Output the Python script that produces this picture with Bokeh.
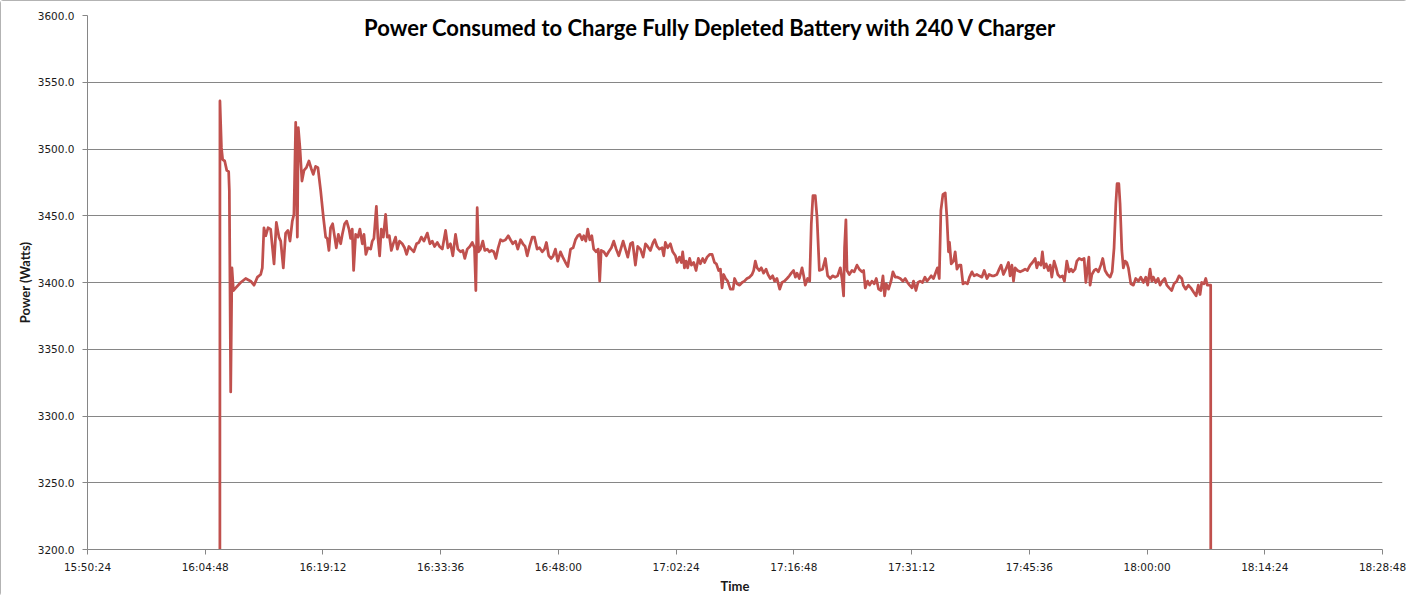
from bokeh.plotting import figure
from bokeh.models import FixedTicker, NumeralTickFormatter, Label, Range1d
from bokeh.embed import file_html
from bokeh.resources import INLINE

title_text = "Power Consumed to Charge Fully Depleted Battery with 240 V Charger"
x_label = "Time"
y_label = "Power (Watts)"
x_tick_labels = ["15:50:24", "16:04:48", "16:19:12", "16:33:36", "16:48:00", "17:02:24",
                 "17:16:48", "17:31:12", "17:45:36", "18:00:00", "18:14:24", "18:28:48"]
y_ticks = [3200, 3250, 3300, 3350, 3400, 3450, 3500, 3550, 3600]

start_clock = "16:00:00"
# seconds after 16:00:00
elapsed_s = [
    392, 396, 407, 416, 431, 446, 460, 465, 475, 484, 495, 512, 548, 585, 622,
    646, 671, 695, 707, 719, 732, 749, 768, 793, 810, 829, 842, 861, 878, 895,
    910, 927, 939, 952, 964, 971, 983, 998, 1013, 1030, 1049, 1067, 1081, 1098, 1115,
    1135, 1155, 1172, 1184, 1196, 1208, 1223, 1238, 1250, 1265, 1282, 1294, 1311, 1326, 1343,
    1355, 1367, 1377, 1392, 1409, 1423, 1441, 1453, 1467, 1482, 1502, 1514, 1526, 1544, 1555,
    1568, 1580, 1595, 1612, 1624, 1639, 1654, 1668, 1685, 1698, 1714, 1734, 1751, 1766, 1783,
    1800, 1819, 1839, 1856, 1874, 1893,
    1918, 1937, 1954, 1971, 1991, 2008, 2028, 2052, 2069, 2088, 2105, 2125, 2142, 2162, 2179,
    2193, 2211, 2230, 2248, 2264, 2274, 2284, 2294, 2308, 2325, 2340, 2358, 2374, 2389, 2406,
    2421, 2438, 2455, 2472, 2492, 2512, 2528, 2545, 2565, 2582, 2602, 2619, 2636, 2651, 2668,
    2688, 2704, 2724, 2741, 2761, 2778, 2792, 2809, 2827, 2842, 2858, 2875, 2895, 2912, 2932,
    2949, 2969, 2988, 3005, 3022, 3037, 3054, 3066, 3081, 3095, 3110, 3125, 3139, 3157, 3172,
    3183, 3194, 3213, 3232, 3249, 3269, 3286, 3304, 3323, 3335,
    3355, 3372, 3389, 3409, 3425, 3445, 3462, 3482, 3502, 3519, 3535, 3555, 3575, 3587, 3604,
    3621, 3641, 3653, 3665, 3682, 3702, 3719, 3739, 3751, 3768, 3783, 3792, 3805, 3817, 3829,
    3843, 3856, 3873, 3890, 3907, 3922, 3939, 3953, 3971, 3990, 4008, 4025, 4039, 4056, 4069,
    4081, 4093, 4107, 4122, 4142, 4162, 4173, 4191, 4210, 4228, 4245, 4264, 4283, 4301, 4313,
    4325, 4338, 4355, 4369, 4386, 4404, 4418, 4435, 4452, 4467, 4484, 4504, 4521, 4538, 4558,
    4575, 4589, 4606, 4619, 4631, 4648, 4668, 4680, 4692, 4709, 4724, 4736, 4748, 4765, 4778,
    4795,
    4819, 4839, 4856, 4875, 4892, 4912, 4929, 4949, 4961, 4973, 4980, 4990, 4998, 5015, 5034,
    5051, 5071, 5088, 5108, 5120, 5132, 5149, 5164, 5181, 5198, 5213, 5230, 5247, 5262, 5274,
    5286, 5303, 5321, 5335, 5352, 5369, 5389, 5409, 5425, 5442, 5457, 5475, 5486, 5504, 5519,
    5535, 5552, 5570, 5585, 5601, 5616, 5633, 5651, 5662, 5675, 5687, 5702, 5719, 5731, 5743,
    5750, 5763, 5780, 5792, 5805, 5821, 5834, 5849, 5865, 5882, 5897, 5915, 5931, 5951, 5968,
    5988, 6005, 6025, 6041, 6061, 6078, 6098, 6115, 6129, 6146, 6164, 6183, 6195, 6208, 6220,
    6232, 6249, 6269,
    6289, 6305, 6322, 6342, 6359, 6379, 6391, 6403, 6421, 6432, 6445, 6459, 6476, 6489, 6501,
    6518, 6533, 6545, 6562, 6579, 6594, 6611, 6628, 6643, 6655, 6672, 6685, 6702, 6721, 6738,
    6751, 6762, 6773, 6782, 6795, 6812, 6826, 6843, 6861, 6875, 6892, 6909, 6929, 6944, 6958,
    6971, 6980, 6993, 7002, 7015, 7026, 7039, 7051, 7063, 7081, 7100, 7117, 7136, 7154, 7173,
    7191, 7205, 7222, 7235, 7246, 7264, 7281, 7296, 7312, 7330, 7345, 7362, 7381, 7398, 7418,
    7435, 7455, 7466, 7484, 7503, 7521, 7540, 7560, 7576, 7589, 7601, 7618, 7631, 7642, 7657,
    7667, 7677,
]
power_w = [
    0, 3536, 3501, 3492, 3491, 3484, 3483, 3469, 3318, 3411, 3394, 3396, 3400, 3403, 3401,
    3398, 3404, 3406, 3411, 3441, 3435, 3441, 3440, 3414, 3445, 3434, 3431, 3411, 3437, 3439,
    3431, 3446, 3451, 3520, 3434, 3516, 3501, 3476, 3484, 3486, 3491, 3485, 3481, 3487, 3486,
    3469, 3449, 3434, 3433, 3424, 3441, 3444, 3434, 3426, 3436, 3429, 3436, 3444, 3446, 3440,
    3433, 3440, 3409, 3436, 3434, 3440, 3429, 3436, 3421, 3426, 3425, 3431, 3433, 3457, 3434,
    3420, 3440, 3434, 3451, 3434, 3435, 3424, 3429, 3434, 3425, 3431, 3429, 3426, 3421, 3427,
    3425, 3423, 3429, 3430, 3434, 3431,
    3437, 3429, 3431, 3427, 3430, 3427, 3425, 3439, 3426, 3429, 3420, 3436, 3425, 3423, 3424,
    3418, 3425, 3427, 3430, 3426, 3394, 3456, 3423, 3425, 3431, 3424, 3425, 3423, 3424, 3423,
    3418, 3426, 3432, 3431, 3432, 3435, 3432, 3429, 3431, 3425, 3432, 3429, 3427, 3420, 3427,
    3434, 3434, 3425, 3426, 3423, 3425, 3430, 3420, 3418, 3420, 3425, 3416, 3423, 3419, 3415,
    3412, 3425, 3426, 3432, 3435, 3436, 3432, 3435, 3431, 3440, 3432, 3435, 3425, 3423, 3425,
    3401, 3424, 3423, 3420, 3423, 3426, 3431, 3425, 3420, 3424,
    3431, 3425, 3419, 3429, 3430, 3413, 3427, 3425, 3419, 3429, 3427, 3424, 3430, 3432, 3427,
    3425, 3426, 3420, 3430, 3426, 3429, 3423, 3420, 3415, 3419, 3415, 3423, 3411, 3416, 3411,
    3418, 3413, 3415, 3409, 3418, 3414, 3418, 3415, 3419, 3421, 3421, 3415, 3414, 3409, 3410,
    3396, 3406, 3403, 3401, 3395, 3395, 3403, 3399, 3398, 3400, 3401, 3403, 3404, 3406, 3409,
    3416, 3411, 3409, 3411, 3407, 3410, 3406, 3403, 3405, 3401, 3403, 3395, 3400, 3401, 3403,
    3405, 3407, 3409, 3404, 3407, 3403, 3411, 3405, 3398, 3403, 3401, 3444, 3465, 3465, 3449,
    3409,
    3410, 3418, 3405, 3403, 3405, 3404, 3405, 3411, 3403, 3390, 3426, 3447, 3409, 3406, 3409,
    3408, 3413, 3410, 3408, 3409, 3396, 3401, 3398, 3401, 3399, 3403, 3395, 3394, 3405, 3390,
    3399, 3395, 3401, 3408, 3404, 3404, 3403, 3401, 3403, 3400, 3398, 3396, 3401, 3394, 3400,
    3401, 3400, 3404, 3401, 3403, 3405, 3403, 3408, 3411, 3403, 3454, 3466, 3467, 3449, 3423,
    3430, 3414, 3416, 3423, 3410, 3413, 3413, 3399, 3400, 3399, 3404, 3408, 3405, 3406, 3405,
    3404, 3409, 3403, 3406, 3405, 3405, 3406, 3410, 3413, 3406, 3410, 3415, 3405, 3413, 3401,
    3411, 3409, 3408,
    3409, 3410, 3409, 3413, 3415, 3418, 3411, 3415, 3413, 3423, 3411, 3414, 3409, 3413, 3404,
    3416, 3411, 3406, 3404, 3405, 3401, 3416, 3408, 3410, 3408, 3410, 3416, 3418, 3417, 3418,
    3400, 3410, 3419, 3398, 3406, 3409, 3410, 3408, 3413, 3418, 3409, 3406, 3404, 3408, 3426,
    3459, 3474, 3474, 3459, 3424, 3411, 3416, 3415, 3411, 3399, 3398, 3403, 3401, 3404, 3400,
    3404, 3398, 3410, 3401, 3404, 3400, 3403, 3398, 3401, 3403, 3398, 3396, 3394, 3399, 3401,
    3405, 3403, 3398, 3395, 3398, 3396, 3393, 3390, 3398, 3391, 3400, 3399, 3403, 3398, 3398,
    3398, 0,
]
assert len(elapsed_s) == len(power_w)


def clock_to_sec(s):
    h, m, sec = (int(v) for v in s.split(":"))
    return h * 3600 + m * 60 + sec


x_ticks = [clock_to_sec(t) for t in x_tick_labels]
t0 = clock_to_sec(start_clock)
times = [t0 + e for e in elapsed_s]

GRID = "#868686"
TEXT = "#1a1a1a"

p = figure(width=1407, height=596, output_backend="svg", toolbar_location=None,
           x_range=Range1d(x_ticks[0], x_ticks[-1]),
           y_range=Range1d(y_ticks[0], y_ticks[-1]),
           min_border_left=87, min_border_right=25, min_border_top=15, min_border_bottom=47,
           background_fill_color="white", border_fill_color="white")
p.outline_line_color = None
p.styles = {"outline": "1px solid #9a9a9a", "outline-offset": "-1px", "border-radius": "3px"}

p.line(times, power_w, line_color="#C0504D", line_width=2.75, line_join="round")

p.xgrid.visible = False
p.ygrid.ticker = FixedTicker(ticks=y_ticks)
p.ygrid.grid_line_color = GRID
p.ygrid.grid_line_width = 1

p.yaxis.ticker = FixedTicker(ticks=y_ticks)
p.yaxis.formatter = NumeralTickFormatter(format="0.0")
p.xaxis.ticker = FixedTicker(ticks=x_ticks)
p.xaxis.major_label_overrides = {t: lab for t, lab in zip(x_ticks, x_tick_labels)}

for ax in (p.xaxis[0], p.yaxis[0]):
    ax.axis_line_color = GRID
    ax.major_tick_line_color = GRID
    ax.minor_tick_line_color = None
    ax.major_tick_in = 0
    ax.major_tick_out = 5
    ax.major_label_text_font = "DejaVu Sans"
    ax.major_label_text_font_size = "10.5px"
    ax.major_label_text_color = TEXT
    ax.axis_label_text_font = "Lato"
    ax.axis_label_text_font_style = "bold"
    ax.axis_label_text_font_size = "13px"
    ax.axis_label_text_color = TEXT

p.xaxis.axis_label = x_label
p.yaxis.axis_label = y_label
p.xaxis.major_label_standoff = 6
p.yaxis.major_label_standoff = 8
p.xaxis.axis_label_standoff = 2
p.yaxis.axis_label_standoff = 2

title = Label(x=624, y=522, x_units="screen", y_units="screen", text=title_text,
              text_align="center", text_baseline="middle", text_font="Lato",
              text_font_style="bold", text_font_size="22px", text_color="black")
p.add_layout(title)

open("out.html", "w").write(file_html(p, INLINE))
